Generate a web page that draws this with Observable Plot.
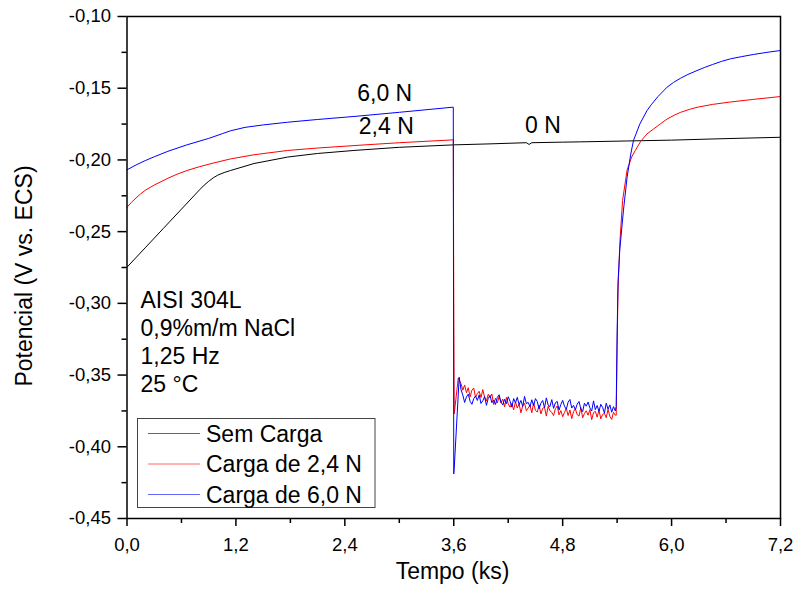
<!DOCTYPE html>
<html><head><meta charset="utf-8">
<script src="https://cdn.jsdelivr.net/npm/d3@7"></script>
<script src="https://cdn.jsdelivr.net/npm/@observablehq/plot@0.6"></script>
<style>body{margin:0;background:#fff}</style>
</head><body><div id="chart"></div>
<script>
// ---- data (time in ks, potential in V vs. ECS) ----
const blackT = [0, 0.2, 0.4, 0.6, 0.8, 0.85, 0.9, 0.95, 1.0, 1.07, 1.14, 1.4, 1.77, 2.1, 2.5, 3.0, 3.6, 4.0, 4.4, 4.43, 4.46, 4.8, 5.0, 5.5, 6.0, 6.5, 7.2];
const blackV = [-0.2748, -0.2613, -0.2478, -0.2343, -0.2208, -0.2176, -0.2149, -0.2125, -0.2106, -0.2088, -0.2074, -0.2025, -0.1980, -0.1955, -0.1934, -0.1912, -0.1895, -0.1888, -0.1880, -0.1892, -0.1880, -0.1876, -0.1874, -0.1868, -0.1862, -0.1853, -0.1842];

// shared sampling times of the noisy plateau (3.70 – 5.38 ks)
const plateauT = [3.70, 3.72, 3.74, 3.76, 3.78, 3.80, 3.82, 3.84, 3.86, 3.88, 3.90, 3.92, 3.94, 3.96, 3.98, 4.00, 4.02, 4.04, 4.06, 4.08, 4.10, 4.12, 4.14, 4.16, 4.18, 4.20, 4.22, 4.24, 4.26, 4.28, 4.30, 4.32, 4.34, 4.36, 4.38, 4.40, 4.42, 4.44, 4.46, 4.48, 4.50, 4.52, 4.54, 4.56, 4.58, 4.60, 4.62, 4.64, 4.66, 4.68, 4.70, 4.72, 4.74, 4.76, 4.78, 4.80, 4.82, 4.84, 4.86, 4.88, 4.90, 4.92, 4.94, 4.96, 4.98, 5.00, 5.02, 5.04, 5.06, 5.08, 5.10, 5.12, 5.14, 5.16, 5.18, 5.20, 5.22, 5.24, 5.26, 5.28, 5.30, 5.32, 5.34, 5.36, 5.38];

const redHeadT = [0, 0.05, 0.1, 0.15, 0.2, 0.3, 0.45, 0.55, 0.66, 0.8, 0.95, 1.14, 1.4, 1.77, 2.1, 2.5, 3.0, 3.595, 3.6, 3.605, 3.65, 3.68];
const redHeadV = [-0.2330, -0.2295, -0.2265, -0.2237, -0.2212, -0.2175, -0.2128, -0.2100, -0.2074, -0.2047, -0.2022, -0.1993, -0.1964, -0.1934, -0.1917, -0.1900, -0.1880, -0.1860, -0.3000, -0.3770, -0.3520, -0.3560];
const redPlateauV = [-0.3605, -0.3569, -0.3623, -0.3588, -0.3652, -0.3606, -0.3590, -0.3654, -0.3629, -0.3613, -0.3657, -0.3601, -0.3655, -0.3680, -0.3634, -0.3658, -0.3632, -0.3706, -0.3661, -0.3695, -0.3649, -0.3693, -0.3667, -0.3722, -0.3656, -0.3700, -0.3724, -0.3698, -0.3743, -0.3687, -0.3730, -0.3702, -0.3763, -0.3715, -0.3696, -0.3748, -0.3730, -0.3711, -0.3763, -0.3694, -0.3746, -0.3758, -0.3709, -0.3771, -0.3732, -0.3724, -0.3786, -0.3717, -0.3749, -0.3760, -0.3782, -0.3734, -0.3715, -0.3777, -0.3748, -0.3790, -0.3761, -0.3731, -0.3782, -0.3743, -0.3804, -0.3754, -0.3735, -0.3776, -0.3786, -0.3727, -0.3798, -0.3768, -0.3749, -0.3780, -0.3741, -0.3811, -0.3762, -0.3753, -0.3793, -0.3744, -0.3805, -0.3775, -0.3766, -0.3797, -0.3738, -0.3788, -0.3809, -0.3760, -0.3780];
const redTailT = [5.39, 5.40, 5.41, 5.43, 5.46, 5.51, 5.56, 5.60, 5.66, 5.73, 5.80, 5.88, 5.95, 6.03, 6.10, 6.20, 6.28, 6.45, 6.65, 6.90, 7.2];
const redTailV = [-0.3780, -0.3300, -0.2900, -0.2580, -0.2283, -0.2070, -0.1980, -0.1934, -0.1870, -0.1818, -0.1785, -0.1747, -0.1715, -0.1688, -0.1668, -0.1647, -0.1633, -0.1613, -0.1596, -0.1578, -0.1558];

const blueHeadT = [0, 0.1, 0.2, 0.3, 0.45, 0.66, 0.9, 1.05, 1.14, 1.3, 1.5, 1.77, 2.1, 2.5, 3.0, 3.595, 3.6, 3.605, 3.66, 3.68];
const blueHeadV = [-0.2069, -0.2035, -0.2005, -0.1978, -0.1940, -0.1895, -0.1850, -0.1817, -0.1797, -0.1773, -0.1756, -0.1737, -0.1718, -0.1697, -0.1668, -0.1632, -0.4189, -0.4150, -0.3515, -0.3600];
const bluePlateauV = [-0.3640, -0.3691, -0.3652, -0.3633, -0.3683, -0.3704, -0.3665, -0.3646, -0.3677, -0.3638, -0.3698, -0.3679, -0.3650, -0.3711, -0.3662, -0.3643, -0.3693, -0.3674, -0.3705, -0.3656, -0.3637, -0.3688, -0.3708, -0.3669, -0.3700, -0.3651, -0.3682, -0.3723, -0.3664, -0.3694, -0.3655, -0.3706, -0.3677, -0.3718, -0.3649, -0.3699, -0.3690, -0.3721, -0.3672, -0.3713, -0.3664, -0.3684, -0.3735, -0.3696, -0.3677, -0.3728, -0.3659, -0.3709, -0.3720, -0.3671, -0.3732, -0.3693, -0.3684, -0.3744, -0.3705, -0.3676, -0.3717, -0.3738, -0.3689, -0.3670, -0.3730, -0.3711, -0.3742, -0.3703, -0.3684, -0.3735, -0.3755, -0.3696, -0.3717, -0.3688, -0.3729, -0.3750, -0.3680, -0.3741, -0.3712, -0.3753, -0.3704, -0.3725, -0.3765, -0.3696, -0.3737, -0.3708, -0.3759, -0.3720, -0.3750];
const blueTailT = [5.39, 5.40, 5.41, 5.43, 5.47, 5.51, 5.55, 5.58, 5.65, 5.73, 5.78, 5.85, 5.95, 6.02, 6.10, 6.18, 6.28, 6.36, 6.45, 6.55, 6.65, 6.77, 6.90, 7.05, 7.2];
const blueTailV = [-0.3720, -0.3200, -0.2850, -0.2620, -0.2350, -0.2120, -0.1960, -0.1865, -0.1750, -0.1655, -0.1612, -0.1558, -0.1493, -0.1460, -0.1430, -0.1404, -0.1377, -0.1356, -0.1335, -0.1313, -0.1295, -0.1280, -0.1265, -0.1250, -0.1237];

const seriesNames = ["Sem Carga", "Carga de 2,4 N", "Carga de 6,0 N"];
const seriesColors = ["#000000", "#ff0000", "#0000ff"];
const xTicks = [0, 1.2, 2.4, 3.6, 4.8, 6.0, 7.2];
const xMinorTicks = [0.6, 1.8, 3.0, 4.2, 5.4, 6.6];
const yTicks = [-0.45, -0.40, -0.35, -0.30, -0.25, -0.20, -0.15, -0.10];
const yMinorTicks = [-0.425, -0.375, -0.325, -0.275, -0.225, -0.175, -0.125];
const infoLines = ["AISI 304L", "0,9%m/m NaCl", "1,25 Hz", "25 °C"];
const loadLabels = ["6,0 N", "2,4 N", "0 N"];
const loadLabelT = [2.839, 2.857, 4.583];
const loadLabelV = [-0.1541, -0.1771, -0.1764];

// ---- build table ----
const seriesT = [blackT, redHeadT.concat(plateauT, redTailT), blueHeadT.concat(plateauT, blueTailT)];
const seriesV = [blackV, redHeadV.concat(redPlateauV, redTailV), blueHeadV.concat(bluePlateauV, blueTailV)];
const rows = [];
seriesT.forEach((T, i) => T.forEach((t, j) => rows.push({t, v: seriesV[i][j], s: seriesNames[i]})));
const labelRows = loadLabels.map((text, i) => ({text, t: loadLabelT[i], v: loadLabelV[i]}));

const FONT = "'Liberation Sans', Arial, Helvetica, sans-serif";
const comma = (d, n) => d.toFixed(n).replace(".", ",");

const plot = Plot.plot({
  width: 795, height: 600,
  marginLeft: 126.5, marginRight: 15, marginTop: 16, marginBottom: 82,
  style: {fontFamily: FONT, fontSize: "18.5px", color: "#000", background: "#fff"},
  x: {domain: [0, 7.2]},
  y: {domain: [-0.45, -0.10]},
  color: {domain: seriesNames, range: seriesColors},
  marks: [
    Plot.line(rows, {x: "t", y: "v", z: "s", stroke: "s", strokeWidth: 1}),
    Plot.text(labelRows, {x: "t", y: "v", text: "text", fontSize: 23, fill: "#000", textAnchor: "middle"}),
    Plot.axisX(xTicks, {tickSize: 8, tickPadding: 11, strokeWidth: 1.5, tickFormat: d => comma(d, 1), label: null}),
    Plot.axisX(xMinorTicks, {tickSize: 5, strokeWidth: 1.5, tickFormat: () => "", label: null}),
    Plot.axisY(yTicks, {tickSize: 9, tickPadding: 7, strokeWidth: 1.5, tickFormat: d => comma(d, 2), label: null}),
    Plot.axisY(yMinorTicks, {tickSize: 5, strokeWidth: 1.5, tickFormat: () => "", label: null}),
    Plot.frame({stroke: "#000", strokeWidth: 1.5})
  ]
});

const svg = d3.select(plot);
// axis titles
svg.append("text").attr("x", 452.5).attr("y", 578.5).attr("text-anchor", "middle")
  .attr("font-size", 23).attr("font-family", FONT).attr("fill", "#000").text("Tempo (ks)");
svg.append("text").attr("transform", "translate(31.7,276) rotate(-90)").attr("text-anchor", "middle")
  .attr("font-size", 23).attr("font-family", FONT).attr("fill", "#000").text("Potencial (V vs. ECS)");
// info block
const info = svg.append("g").attr("font-size", 23).attr("font-family", FONT).attr("fill", "#000").attr("text-anchor", "start");
infoLines.forEach((l, i) => info.append("text").attr("x", 140.5).attr("y", 308.3 + i * 27.8).text(l));
// legend
const lg = svg.append("g").attr("font-family", FONT).attr("font-size", 23).attr("text-anchor", "start");
lg.append("rect").attr("x", 137.5).attr("y", 418.5).attr("width", 237.5).attr("height", 89)
  .attr("fill", "#fff").attr("stroke", "#444").attr("stroke-width", 1);
seriesNames.forEach((name, i) => {
  const y = 433.5 + i * 30.5;
  lg.append("line").attr("x1", 148).attr("x2", 200).attr("y1", y).attr("y2", y)
    .attr("stroke", seriesColors[i]).attr("stroke-width", 1).attr("stroke-opacity", 0.6);
  lg.append("text").attr("x", 206).attr("y", y + 8.3).attr("fill", "#000").text(name);
});

document.getElementById("chart").appendChild(plot);
</script>
</body></html>
